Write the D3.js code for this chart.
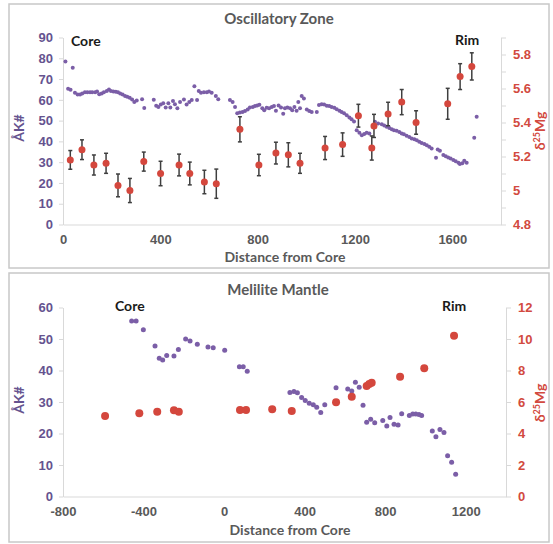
<!DOCTYPE html>
<html>
<head>
<meta charset="utf-8">
<script src="https://cdn.jsdelivr.net/npm/d3@7"></script>
<style>
  body { margin: 0; background: #fff; }
  svg { font-family: Lato, "Open Sans", sans-serif; }
</style>
</head>
<body>
<div id="chart"></div>
<script>
// ---- Oscillatory Zone: AK# (purple) ----
const oscDist = [10,40,21,31,49,60,70,79,90,100,111,120,132,140,149,159,168,180,189,197,207,217,226,235,245,255,264,274,284,293,303,325,334,
  373,383,392,402,412,422,433,441,452,460,470,481,497,508,519,529,540,551,558,567,579,591,600,611,628,638,686,697,707,716,727,738,748,759,768,780,789,798,807,
  819,827,837,847,858,867,875,886,896,905,912,922,933,942,951,960,967,974,981,990,1002,1012,1022,1043,1052,1063,1073,1084,1094,1104,1115,1125,1136,1145,1155,
  1166,1177,1186,1196,1207,1218,1228,1238,1248,1259,1282,1295,1310,1320,1330,1341,1351,1360,1371,1382,1392,1401,1412,1423,1433,1444,1454,1464,1474,1485,1495,
  1505,1515,1533,1540,1549,1563,1573,1583,1593,1604,1614,1625,1631,1641,1649,1659,1690,1700];
const oscAK = [78.4,75.4,65.3,64.8,63.4,62.6,62.6,63.1,63.6,63.7,63.6,63.6,63.6,64.0,62.7,63.1,63.7,64.3,65.0,64.3,64.0,63.9,63.6,63.1,62.6,61.9,61.5,61.0,60.2,59.0,59.7,60.3,56.1,
  60.0,57.1,56.5,57.8,58.3,56.3,58.3,56.3,59.4,57.9,55.9,59.0,60.2,57.8,59.0,59.9,66.5,59.9,64.3,63.4,63.6,63.6,64.0,63.4,61.9,60.3,59.9,59.0,56.6,53.5,53.9,54.2,54.6,55.4,56.3,56.6,57.0,57.3,57.6,
  55.9,55.0,56.2,55.9,56.6,57.0,54.7,57.3,56.3,53.3,55.9,56.3,55.9,55.0,56.6,54.7,59.0,56.0,61.9,60.7,55.4,54.6,54.1,54.2,57.5,57.9,57.8,57.1,57.0,56.6,56.2,55.5,54.7,54.1,53.5,
  52.6,51.5,50.6,49.6,45.4,44.1,43.0,43.5,44.1,43.8,49.4,48.6,48.3,47.7,47.0,46.5,45.9,45.4,45.1,44.5,43.8,43.4,42.7,42.1,41.4,41.0,40.5,39.8,39.2,38.7,38.1,
  37.4,36.6,32.1,36.1,35.5,33.4,32.9,32.3,31.8,31.1,30.5,29.7,29.1,29.5,30.7,29.7,41.7,51.8];

// ---- Oscillatory Zone: d25Mg (red) with 2SD ----
const oscMgDist = [30,78,127,177,226,275,332,401,477,521,581,630,727,805,875,926,974,1077,1149,1214,1269,1278,1336,1392,1451,1581,1632,1680];
const oscMg = [5.18,5.24,5.15,5.16,5.03,5.00,5.17,5.10,5.15,5.10,5.05,5.04,5.36,5.15,5.22,5.21,5.16,5.25,5.27,5.44,5.25,5.38,5.45,5.52,5.40,5.51,5.67,5.73];
const oscMgErr = [0.055,0.058,0.059,0.059,0.067,0.071,0.056,0.072,0.064,0.067,0.069,0.086,0.074,0.063,0.064,0.071,0.059,0.068,0.069,0.067,0.071,0.068,0.069,0.074,0.069,0.091,0.076,0.080];

// ---- Melilite Mantle: AK# (purple) ----
const manDist = [-459,-437,-401,-343,-322,-305,-285,-249,-227,-191,-169,-133,-80,-54,3,76,95,115,
  327,347,364,385,403,423,443,460,480,500,556,614,634,652,671,690,708,728,748,788,808,824,844,864,
  882,920,937,952,968,981,1034,1052,1072,1092,1110,1130,1150];
const manAK = [55.7,55.7,52.9,47.8,43.9,43.3,44.8,44.6,46.7,50.0,49.4,48.3,47.5,47.2,46.4,41.2,41.2,39.8,
  33.0,33.3,32.9,31.4,30.5,29.6,29.1,28.3,26.7,29.1,34.5,34.1,33.5,36.3,34.7,29.0,23.6,24.5,23.4,24.1,22.4,25.1,22.9,22.7,
  26.3,25.7,26.2,26.2,26.0,25.7,20.8,19.0,21.3,20.3,12.9,10.9,7.1];

// ---- Melilite Mantle: d25Mg (red) ----
const manMgDist = [-591,-421,-332,-249,-225,79,109,239,336,556,634,708,721,733,874,994,1142];
const manMg = [5.11,5.28,5.38,5.47,5.38,5.49,5.49,5.54,5.43,5.98,6.34,7.02,7.14,7.23,7.61,8.14,10.21];

// ---- ticks ----
const oscXTicks = [0,400,800,1200,1600];
const oscAKTicks = [0,10,20,30,40,50,60,70,80,90];
const oscMgTicks = d3.range(48, 60).map(v => v / 10);
const manXTicks = [-800,-400,0,400,800,1200];
const manAKTicks = [0,10,20,30,40,50,60];
const manMgTicks = [0,2,4,6,8,10,12];

const W = 553, H = 544;
const purple = '#7b5ea7';
const red = '#d4473d';
const akCol = '#65538f';
const mgCol = '#d24a40';
const grey = '#595959';

const svg = d3.select('#chart').append('svg')
  .attr('width', W)
  .attr('height', H);

svg.append('rect').attr('width', W).attr('height', H).attr('fill', '#fff');

function drawPanel(p) {
  const g = svg.append('g');

  // frame
  g.append('rect')
    .attr('x', p.box[0]).attr('y', p.box[1])
    .attr('width', p.box[2]).attr('height', p.box[3])
    .attr('fill', 'none').attr('stroke', '#c8c8c8').attr('stroke-width', 1.5);

  const x = d3.scaleLinear().domain(p.xDomain).range([p.left, p.right]);
  const yK = d3.scaleLinear().domain(p.kDomain).range([p.bottom, p.top]);
  const yM = d3.scaleLinear().domain(p.mDomain).range([p.bottom, p.top]);

  // axes
  const xAxis = g.append('g')
    .attr('transform', 'translate(0,' + p.bottom + ')')
    .call(d3.axisBottom(x).tickValues(p.xTicks).tickSize(0).tickPadding(10).tickFormat(d => String(d)));
  xAxis.selectAll('text').attr('fill', grey).style('font-size', '13px').style('font-weight', 'bold');

  const kAxis = g.append('g')
    .attr('transform', 'translate(' + p.left + ',0)')
    .call(d3.axisLeft(yK).tickValues(p.kTicks).tickSize(4).tickPadding(6).tickSizeOuter(0));
  kAxis.selectAll('text').attr('fill', akCol).style('font-size', '13px').style('font-weight', 'bold');

  const mAxis = g.append('g')
    .attr('transform', 'translate(' + p.right + ',0)')
    .call(d3.axisRight(yM).tickValues(p.mTicks).tickSize(5).tickPadding(7).tickSizeOuter(0)
      .tickFormat(p.mFormat));
  mAxis.selectAll('text').attr('fill', mgCol).style('font-size', '13px').style('font-weight', 'bold');

  [xAxis, kAxis, mAxis].forEach(a => {
    a.select('.domain').attr('stroke', '#d9d9d9').attr('stroke-width', 1);
    a.selectAll('.tick line').attr('stroke', '#d9d9d9');
  });

  if (p.zeroLine) {
    g.append('line')
      .attr('x1', x(0)).attr('x2', x(0))
      .attr('y1', p.top).attr('y2', p.bottom)
      .attr('stroke', '#6f6f6f').attr('stroke-width', 1.5)
      .attr('stroke-dasharray', '5,4');
  }

  // AK# points
  g.selectAll('circle.ak')
    .data(p.kDist.map((d, i) => [d, p.kVal[i]]))
    .enter().append('circle')
    .attr('class', 'ak')
    .attr('cx', d => x(d[0]))
    .attr('cy', d => yK(d[1]))
    .attr('r', p.kR)
    .attr('fill', purple);

  // error bars
  if (p.mErr) {
    const eb = g.selectAll('g.err')
      .data(p.mDist.map((d, i) => [d, p.mVal[i], p.mErr[i]]))
      .enter().append('g').attr('class', 'err')
      .attr('stroke', '#3f3f3f').attr('stroke-width', 1.5);
    eb.append('line')
      .attr('x1', d => x(d[0])).attr('x2', d => x(d[0]))
      .attr('y1', d => yM(d[1] - d[2])).attr('y2', d => yM(d[1] + d[2]));
    eb.append('line')
      .attr('x1', d => x(d[0]) - 2).attr('x2', d => x(d[0]) + 2)
      .attr('y1', d => yM(d[1] - d[2])).attr('y2', d => yM(d[1] - d[2]));
    eb.append('line')
      .attr('x1', d => x(d[0]) - 2).attr('x2', d => x(d[0]) + 2)
      .attr('y1', d => yM(d[1] + d[2])).attr('y2', d => yM(d[1] + d[2]));
  }

  // d25Mg points
  g.selectAll('circle.mg')
    .data(p.mDist.map((d, i) => [d, p.mVal[i]]))
    .enter().append('circle')
    .attr('class', 'mg')
    .attr('cx', d => x(d[0]))
    .attr('cy', d => yM(d[1]))
    .attr('r', p.mR)
    .attr('fill', red);

  // texts
  g.append('text')
    .attr('x', p.titleX).attr('y', p.titleY)
    .attr('text-anchor', 'middle')
    .attr('fill', grey).style('font-size', '15px').style('font-weight', 'bold')
    .text(p.title);

  g.append('text')
    .attr('x', p.xTitleX).attr('y', p.xTitleY)
    .attr('text-anchor', 'middle')
    .attr('fill', grey).style('font-size', '14px').style('font-weight', 'bold')
    .text('Distance from Core');

  g.append('text')
    .attr('transform', 'translate(' + p.kTitle[0] + ',' + p.kTitle[1] + ') rotate(-90)')
    .attr('text-anchor', 'middle')
    .attr('fill', akCol).style('font-size', '14px').style('font-weight', 'bold')
    .text('ÅK#');

  const mt = g.append('text')
    .attr('transform', 'translate(' + p.mTitle[0] + ',' + p.mTitle[1] + ') rotate(-90)')
    .attr('text-anchor', 'middle')
    .attr('fill', mgCol).style('font-size', '14px').style('font-weight', 'bold');
  mt.append('tspan').text('δ');
  mt.append('tspan').attr('dy', -5).style('font-size', '9px').text('25');
  mt.append('tspan').attr('dy', 5).text('Mg');

  g.append('text')
    .attr('x', p.core[0]).attr('y', p.core[1])
    .attr('fill', '#1a1a1a').style('font-size', '14px').style('font-weight', 'bold')
    .text('Core');
  g.append('text')
    .attr('x', p.rim[0]).attr('y', p.rim[1])
    .attr('fill', '#1a1a1a').style('font-size', '14px').style('font-weight', 'bold')
    .text('Rim');
}

drawPanel({
  box: [9, 4, 540, 264],
  left: 63, right: 501, top: 37.5, bottom: 224.5,
  xDomain: [0, 1800], kDomain: [0, 90], mDomain: [4.8, 5.9],
  xTicks: oscXTicks, kTicks: oscAKTicks, mTicks: oscMgTicks,
  mFormat: d => (Math.round(d * 10) % 2 === 0 ? String(d) : ''),
  kDist: oscDist, kVal: oscAK, kR: 2,
  mDist: oscMgDist, mVal: oscMg, mErr: oscMgErr, mR: 3.5,
  title: 'Oscillatory Zone', titleX: 279, titleY: 24,
  xTitleX: 285, xTitleY: 262,
  kTitle: [24, 128], mTitle: [545, 131],
  core: [71, 46], rim: [455, 45]
});

drawPanel({
  box: [9, 273, 540, 269],
  left: 63, right: 506, top: 307.5, bottom: 496.5,
  xDomain: [-800, 1400], kDomain: [0, 60], mDomain: [0, 12],
  xTicks: manXTicks, kTicks: manAKTicks, mTicks: manMgTicks,
  mFormat: d => String(d),
  kDist: manDist, kVal: manAK, kR: 2.5,
  mDist: manMgDist, mVal: manMg, mErr: null, mR: 4,
  title: 'Melilite Mantle', titleX: 278, titleY: 295,
  xTitleX: 290, xTitleY: 535,
  kTitle: [24, 400], mTitle: [545, 403],
  core: [115, 311], rim: [442, 311]
});
</script>
</body>
</html>
